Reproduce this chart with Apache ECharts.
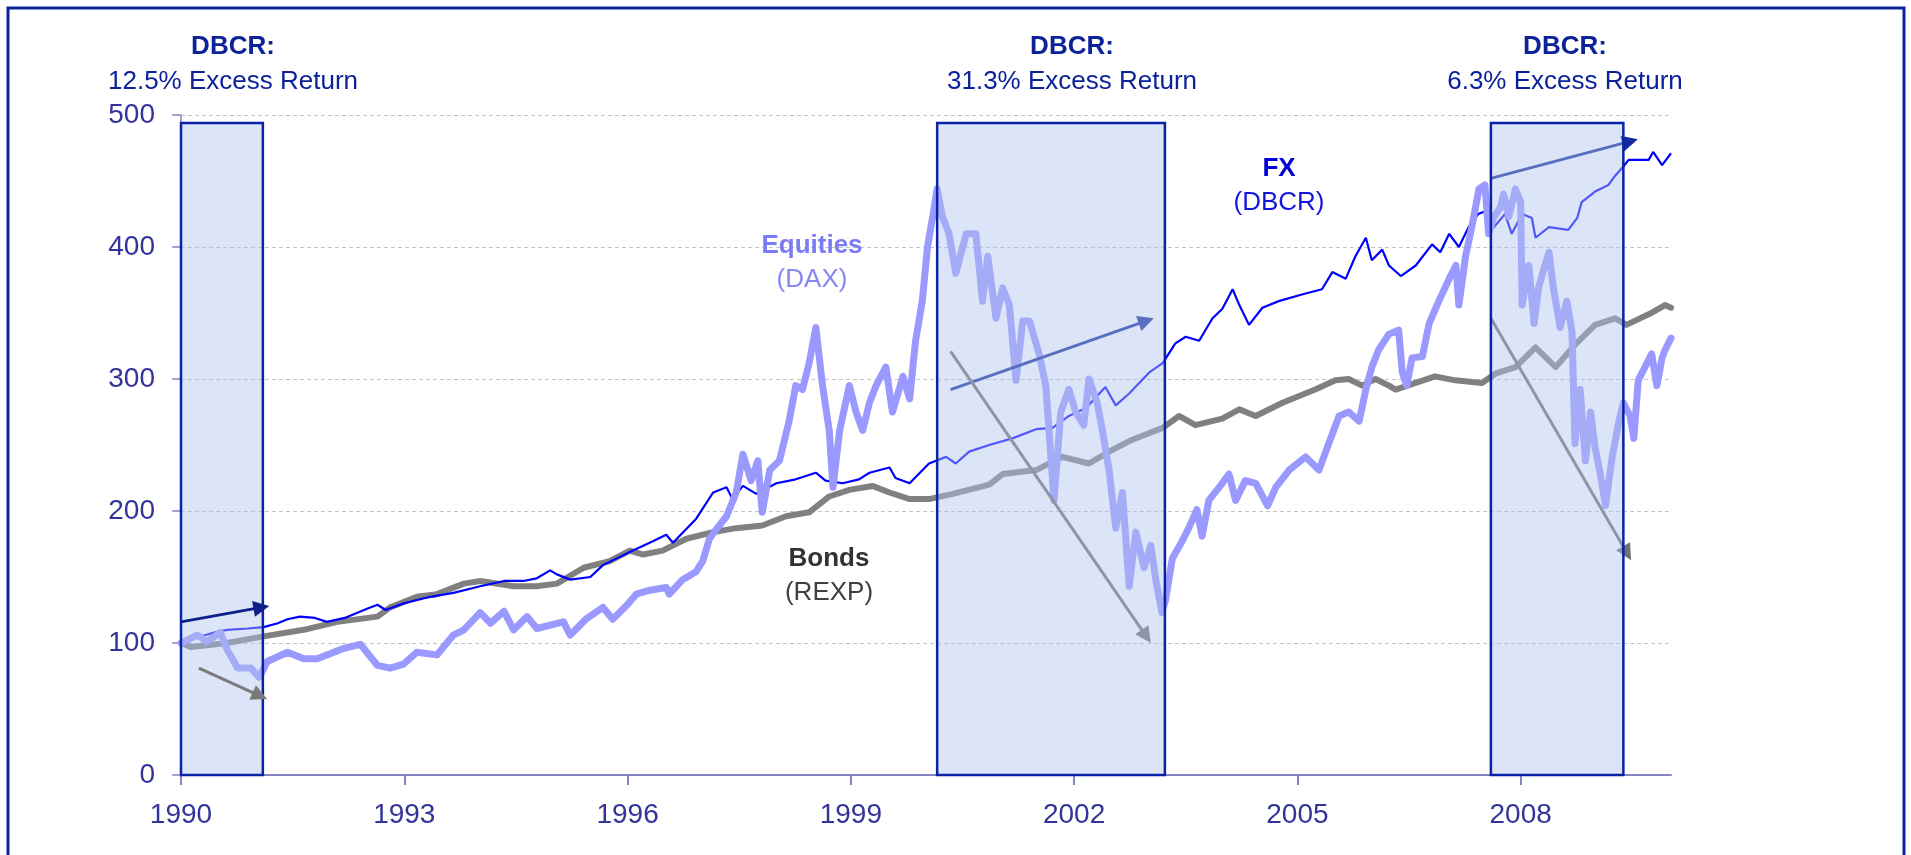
<!DOCTYPE html>
<html>
<head>
<meta charset="utf-8">
<script src="https://cdn.jsdelivr.net/npm/echarts@6/dist/echarts.min.js"></script>
<style>
html, body { margin: 0; padding: 0; background: #fff; }
#main { width: 1911px; height: 855px; }
</style>
</head>
<body>
<div id="main"></div>
<script>
// FX (DBCR)
var fxYears = [1990.00, 1990.20, 1990.45, 1990.62, 1990.90, 1991.11, 1991.30, 1991.43, 1991.60, 1991.80, 1991.96,
  1992.20, 1992.50, 1992.64, 1992.75, 1992.99, 1993.35, 1993.66, 1994.02, 1994.34, 1994.60, 1994.78, 1994.96,
  1995.05, 1995.23, 1995.50, 1995.67, 1996.03, 1996.34, 1996.52, 1996.61, 1996.92, 1997.15, 1997.33, 1997.41,
  1997.55, 1997.73, 1998.00, 1998.26, 1998.53, 1998.66, 1998.89, 1999.11, 1999.25, 1999.52, 1999.60, 1999.79,
  2000.05, 2000.28, 2000.41, 2000.59, 2000.86, 2001.17, 2001.49, 2001.71, 2001.93, 2002.16, 2002.42, 2002.56,
  2002.74, 2003.01, 2003.19, 2003.36, 2003.50, 2003.68, 2003.86, 2003.99, 2004.13, 2004.22, 2004.35, 2004.53,
  2004.75, 2005.06, 2005.33, 2005.47, 2005.65, 2005.78, 2005.92, 2006.00, 2006.14, 2006.23, 2006.39, 2006.59,
  2006.81, 2006.92, 2007.04, 2007.17, 2007.30, 2007.43, 2007.52, 2007.61, 2007.79, 2007.88, 2008.02, 2008.15,
  2008.20, 2008.38, 2008.64, 2008.76, 2008.82, 2009.00, 2009.18, 2009.27, 2009.38, 2009.45, 2009.72, 2009.78,
  2009.90, 2010.02];
var fxValues = [100, 104, 108, 110, 111, 112, 115, 118, 120, 119, 116,
  119, 126, 129, 125, 130, 135, 138, 143, 147, 147, 149, 155,
  152, 148, 150, 159, 169, 177, 182, 176, 194, 214, 218, 209,
  219, 213, 221, 224, 229, 223, 221, 224, 229, 233, 225, 221,
  236, 241, 236, 245, 250, 255, 262, 263, 272, 278, 294, 280,
  289, 305, 312, 327, 332, 329, 346, 353, 368, 356, 341, 354,
  359, 364, 368, 381, 376, 393, 407, 390, 398, 386, 378, 386,
  402, 396, 410, 400, 415, 425, 427, 413, 425, 410, 425, 422,
  407, 415, 413, 422, 434, 442, 447, 454, 461, 466, 466, 472,
  462, 471];

// Equities (DAX)
var eqYears = [1990.00, 1990.04, 1990.22, 1990.35, 1990.53, 1990.62, 1990.76, 1990.94, 1991.05, 1991.16, 1991.43,
  1991.65, 1991.83, 1992.19, 1992.41, 1992.64, 1992.81, 1992.99, 1993.17, 1993.44, 1993.66, 1993.80, 1994.02,
  1994.16, 1994.34, 1994.47, 1994.65, 1994.78, 1995.14, 1995.23, 1995.44, 1995.67, 1995.80, 1995.98, 1996.12,
  1996.30, 1996.52, 1996.56, 1996.74, 1996.92, 1997.01, 1997.10, 1997.19, 1997.33, 1997.46, 1997.55, 1997.66,
  1997.75, 1997.81, 1997.91, 1998.04, 1998.17, 1998.26, 1998.35, 1998.44, 1998.53, 1998.62, 1998.71, 1998.76,
  1998.85, 1998.98, 1999.07, 1999.16, 1999.25, 1999.34, 1999.47, 1999.56, 1999.70, 1999.79, 1999.87, 1999.96,
  2000.03, 2000.10, 2000.16, 2000.23, 2000.32, 2000.41, 2000.55, 2000.68, 2000.77, 2000.84, 2000.95, 2001.04,
  2001.13, 2001.22, 2001.31, 2001.40, 2001.53, 2001.62, 2001.67, 2001.73, 2001.82, 2001.93, 2002.02, 2002.13,
  2002.20, 2002.31, 2002.38, 2002.47, 2002.56, 2002.65, 2002.74, 2002.83, 2002.94, 2003.03, 2003.10, 2003.18,
  2003.23, 2003.32, 2003.45, 2003.54, 2003.65, 2003.72, 2003.81, 2003.99, 2004.08, 2004.17, 2004.30, 2004.44,
  2004.60, 2004.71, 2004.89, 2005.11, 2005.29, 2005.42, 2005.56, 2005.69, 2005.83, 2005.92, 2006.00, 2006.09,
  2006.23, 2006.36, 2006.41, 2006.47, 2006.54, 2006.68, 2006.77, 2006.90, 2007.04, 2007.13, 2007.17, 2007.26,
  2007.35, 2007.44, 2007.52, 2007.57, 2007.64, 2007.73, 2007.77, 2007.84, 2007.93, 2008.00, 2008.02, 2008.11,
  2008.18, 2008.24, 2008.31, 2008.38, 2008.44, 2008.53, 2008.62, 2008.69, 2008.73, 2008.80, 2008.87, 2008.94,
  2009.00, 2009.07, 2009.14, 2009.23, 2009.32, 2009.38, 2009.47, 2009.52, 2009.58, 2009.67, 2009.76, 2009.83,
  2009.90, 2009.94, 2010.02];
var eqValues = [100, 101, 106, 101, 108, 95, 81, 81, 74, 86, 93,
  88, 88, 96, 99, 83, 81, 84, 93, 91, 106, 110, 123,
  115, 124, 110, 120, 111, 116, 106, 118, 127, 118, 128, 137,
  140, 142, 137, 148, 154, 162, 179, 186, 196, 214, 243, 223,
  238, 199, 231, 238, 268, 295, 292, 312, 339, 295, 261, 218,
  261, 295, 275, 261, 282, 295, 309, 275, 302, 285, 329, 359,
  400, 423, 444, 423, 410, 380, 410, 410, 359, 393, 346, 369,
  356, 299, 344, 344, 319, 295, 255, 208, 275, 292, 275, 265,
  300, 282, 261, 231, 187, 214, 143, 184, 157, 174, 147, 123,
  133, 164, 177, 187, 201, 181, 208, 221, 228, 208, 223, 221,
  204, 218, 231, 241, 231, 251, 272, 275, 268, 292, 309, 322,
  334, 337, 305, 295, 316, 317, 342, 359, 376, 386, 356, 393,
  417, 444, 447, 410, 423, 430, 440, 423, 444, 434, 356, 386,
  342, 369, 383, 396, 369, 339, 359, 336, 251, 292, 238, 275,
  248, 228, 204, 241, 268, 282, 272, 255, 299, 309, 319, 295,
  316, 322, 331];

// Bonds (REXP)
var bdYears = [1990.00, 1990.13, 1990.62, 1991.11, 1991.65, 1992.10, 1992.64, 1992.81, 1993.17, 1993.44, 1993.80,
  1994.02, 1994.47, 1994.78, 1995.05, 1995.41, 1995.76, 1996.03, 1996.21, 1996.47, 1996.79, 1997.15, 1997.46,
  1997.81, 1998.13, 1998.44, 1998.71, 1998.98, 1999.29, 1999.52, 1999.79, 2000.05, 2000.37, 2000.86, 2001.04,
  2001.49, 2001.84, 2002.20, 2002.47, 2002.74, 2003.19, 2003.41, 2003.63, 2003.99, 2004.22, 2004.44, 2004.80,
  2005.24, 2005.51, 2005.69, 2005.87, 2006.05, 2006.23, 2006.32, 2006.85, 2007.12, 2007.48, 2007.66, 2007.93,
  2008.20, 2008.47, 2008.73, 2009.00, 2009.27, 2009.42, 2009.72, 2009.94, 2010.02];
var bdValues = [100, 97, 100, 105, 110, 116, 120, 127, 135, 137, 145,
  147, 143, 143, 145, 157, 162, 170, 167, 170, 179, 184, 187,
  189, 196, 199, 211, 216, 219, 214, 209, 209, 213, 220, 228,
  231, 241, 236, 245, 253, 263, 272, 265, 270, 277, 272, 282,
  292, 299, 300, 295, 300, 295, 292, 302, 299, 297, 304, 309,
  324, 309, 326, 341, 346, 341, 349, 356, 354];

// Shaded DBCR periods
var boxStart = [1990.0, 2000.16, 2007.6];
var boxEnd = [1991.1, 2003.22, 2009.38];
var boxTop = [494, 494, 494];
var boxTitles = ['DBCR:', 'DBCR:', 'DBCR:'];
var boxReturns = ['12.5% Excess Return', '31.3% Excess Return', '6.3% Excess Return'];

// trend arrows [fromYear, fromValue, toYear, toValue]
var arrowsOnTop = [[1990.0, 116, 1991.08, 127], [1990.24, 81, 1991.06, 60]];
var arrowsUnder = [[2000.34, 292, 2002.97, 344], [2000.34, 321, 2002.97, 105],
  [2007.6, 452, 2009.47, 480], [2007.6, 346, 2009.43, 168]];

var xTicks = [1990, 1993, 1996, 1999, 2002, 2005, 2008];

function pairs(xs, ys) {
  return xs.map(function (x, i) { return [x, ys[i]]; });
}
function arrowLines(list) {
  return list.map(function (a) {
    return [{ coord: [a[0], a[1]] }, { coord: [a[2], a[3]] }];
  });
}

var FONT = 'Liberation Sans, Arial, sans-serif';
var navy = '#0b2299';

var chart = echarts.init(document.getElementById('main'));

var graphics = [{
  type: 'rect',
  shape: { x: 8, y: 8, width: 1896, height: 900 },
  style: { fill: 'none', stroke: navy, lineWidth: 3 },
  z: 10
}];
var labelX = [233, 1072, 1565];
labelX.forEach(function (x, i) {
  graphics.push({
    type: 'text', x: x, y: 47, z: 10,
    style: { text: boxTitles[i], font: 'bold 26px ' + FONT, fill: navy, align: 'center', verticalAlign: 'middle' }
  });
  graphics.push({
    type: 'text', x: x, y: 82, z: 10,
    style: { text: boxReturns[i], font: '26px ' + FONT, fill: navy, align: 'center', verticalAlign: 'middle' }
  });
});
var seriesNames = [
  { t: 'Equities', s: '(DAX)', x: 812, y: 246, c1: '#7b7bf6', c2: '#8787f4' },
  { t: 'FX', s: '(DBCR)', x: 1279, y: 169, c1: '#0000d8', c2: '#1414e0' },
  { t: 'Bonds', s: '(REXP)', x: 829, y: 559, c1: '#333333', c2: '#404040' }
];
seriesNames.forEach(function (n) {
  graphics.push({
    type: 'text', x: n.x, y: n.y, z: 10,
    style: { text: n.t, font: 'bold 26px ' + FONT, fill: n.c1, align: 'center', verticalAlign: 'middle' }
  });
  graphics.push({
    type: 'text', x: n.x, y: n.y + 34, z: 10,
    style: { text: n.s, font: '26px ' + FONT, fill: n.c2, align: 'center', verticalAlign: 'middle' }
  });
});

chart.setOption({
  animation: false,
  backgroundColor: '#ffffff',
  grid: { left: 181, right: 240, top: 115, bottom: 80 },
  xAxis: {
    type: 'value',
    min: 1990,
    max: 2010.02,
    interval: 3,
    axisLine: { show: true, lineStyle: { color: '#8585c6', width: 2 } },
    axisTick: { show: true, length: 10, customValues: xTicks, lineStyle: { color: '#8585c6', width: 2 } },
    axisLabel: {
      customValues: xTicks, color: '#333399', fontSize: 28, fontFamily: FONT, margin: 26,
      formatter: function (v) { return String(Math.round(v)); }
    },
    splitLine: { show: false }
  },
  yAxis: {
    type: 'value',
    min: 0,
    max: 500,
    interval: 100,
    axisLine: { show: true, lineStyle: { color: '#8585c6', width: 1.5 } },
    axisTick: { show: true, length: 9, lineStyle: { color: '#8585c6', width: 1.5 } },
    axisLabel: { color: '#333399', fontSize: 28, fontFamily: FONT, margin: 26 },
    splitLine: { show: true, lineStyle: { color: '#c4c4c4', type: [4, 3], width: 1 } }
  },
  graphic: graphics,
  series: [
    {
      name: 'Bonds', type: 'line', z: 2, showSymbol: false, silent: true,
      data: pairs(bdYears, bdValues),
      lineStyle: { color: '#808080', width: 6, join: 'round', cap: 'round' }
    },
    {
      name: 'FX', type: 'line', z: 2, showSymbol: false, silent: true,
      data: pairs(fxYears, fxValues),
      lineStyle: { color: '#0000ff', width: 2.2 }
    },
    {
      name: 'Equities', type: 'line', z: 2, showSymbol: false, silent: true,
      data: pairs(eqYears, eqValues),
      lineStyle: { color: '#9999ff', width: 7, join: 'round', cap: 'round' }
    },
    {
      name: 'arrowsUnder', type: 'line', data: [], silent: true,
      markLine: {
        z: 3, silent: true, animation: false,
        symbol: ['none', 'triangle'], symbolSize: 16,
        label: { show: false },
        data: arrowLines(arrowsUnder).map(function (d, i) {
          var col = (i % 2 === 0) ? '#13299c' : '#707070';
          return [Object.assign({ lineStyle: { color: col, width: 3, type: 'solid' }, itemStyle: { color: col } }, d[0]), d[1]];
        })
      }
    },
    {
      name: 'boxes', type: 'custom', z: 4, silent: true,
      data: boxStart.map(function (s, i) { return [s, boxEnd[i], boxTop[i]]; }),
      renderItem: function (params, api) {
        var p0 = api.coord([api.value(0), api.value(2)]);
        var p1 = api.coord([api.value(1), 0]);
        return {
          type: 'rect',
          shape: { x: p0[0], y: p0[1], width: p1[0] - p0[0], height: p1[1] - p0[1] },
          style: { fill: 'rgba(177,195,237,0.45)', stroke: '#0a22a6', lineWidth: 2.5 }
        };
      }
    },
    {
      name: 'arrowsOnTop', type: 'line', data: [], silent: true,
      markLine: {
        z: 5, silent: true, animation: false,
        symbol: ['none', 'triangle'], symbolSize: 16,
        label: { show: false },
        data: arrowLines(arrowsOnTop).map(function (d, i) {
          var col = (i === 0) ? '#0c1f8a' : '#7a7a7a';
          return [Object.assign({ lineStyle: { color: col, width: 3, type: 'solid' }, itemStyle: { color: col } }, d[0]), d[1]];
        })
      }
    }
  ]
});
</script>
</body>
</html>
